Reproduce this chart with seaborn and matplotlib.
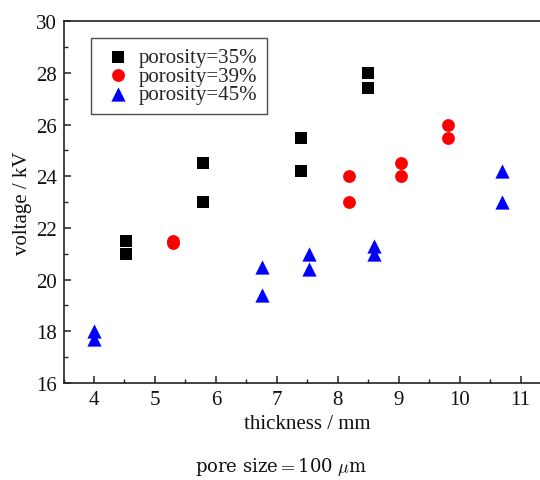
import numpy as np
import pandas as pd
import matplotlib
matplotlib.use("Agg")
import matplotlib.pyplot as plt
import seaborn as sns
from matplotlib.ticker import MultipleLocator

# data
x35 = [4.53, 4.53, 5.79, 5.79, 7.39, 7.39, 8.49, 8.49]
y35 = [21.5, 21.0, 24.5, 23.0, 25.5, 24.2, 28.0, 27.4]
x39 = [5.29, 5.29, 8.19, 8.19, 9.04, 9.04, 9.81, 9.81]
y39 = [21.5, 21.4, 24.0, 23.0, 24.5, 24.0, 26.0, 25.5]
x45 = [4.0, 4.0, 6.76, 6.76, 7.53, 7.53, 8.6, 8.6, 10.7, 10.7]
y45 = [18.0, 17.7, 20.5, 19.4, 21.0, 20.4, 21.3, 21.0, 24.2, 23.0]
labels = ["porosity=35%", "porosity=39%", "porosity=45%"]

df = pd.DataFrame({
    "thickness": x35 + x39 + x45,
    "voltage": y35 + y39 + y45,
    "group": [labels[0]] * len(x35) + [labels[1]] * len(x39) + [labels[2]] * len(x45),
})

sns.set_theme(style="white")
plt.rcParams["font.family"] = ["Liberation Serif", "DejaVu Serif"]
plt.rcParams["mathtext.fontset"] = "cm"

fig = plt.figure(figsize=(5.4, 4.81), dpi=100)
ax = fig.add_axes([0.1176, 0.2017, 0.903, 0.752])

palette = {labels[0]: "#000000", labels[1]: "#ff0000", labels[2]: "#0000ff"}
markers = {labels[0]: "s", labels[1]: "o", labels[2]: "^"}
sizes_map = {labels[0]: 75, labels[1]: 85, labels[2]: 105}

for lab in labels:
    sub = df[df["group"] == lab]
    sns.scatterplot(data=sub, x="thickness", y="voltage", color=palette[lab],
                    marker=markers[lab], s=sizes_map[lab], linewidth=0,
                    ax=ax, label=lab)

ax.set_xlim(3.5, 11.5)
ax.set_ylim(16, 30)
ax.xaxis.set_major_locator(MultipleLocator(1))
ax.xaxis.set_minor_locator(MultipleLocator(0.5))
ax.yaxis.set_major_locator(MultipleLocator(2))
ax.yaxis.set_minor_locator(MultipleLocator(1))
ax.tick_params(which="both", direction="in", bottom=True, left=True, top=False, right=False,
               colors="#222222", labelcolor="#111111")
ax.tick_params(which="major", length=5, width=1.1, labelsize=15, pad=5)
ax.tick_params(which="minor", length=3, width=1.0)
for sp in ["left", "bottom", "top"]:
    ax.spines[sp].set_color("#222222")
    ax.spines[sp].set_linewidth(1.2)
ax.spines["right"].set_visible(False)

ax.set_xlabel("thickness / mm", fontsize=15, color="#111111", labelpad=4)
ax.set_ylabel("voltage / kV", fontsize=15, color="#111111", labelpad=3)

leg = ax.legend(loc="upper left", bbox_to_anchor=(0.056, 0.953), borderaxespad=0,
                fontsize=15, frameon=True, fancybox=False, handletextpad=0.15,
                labelspacing=-0.05, borderpad=0.45, handlelength=1.7)
leg.get_frame().set_edgecolor("#222222")
leg.get_frame().set_linewidth(1.0)

fig.text(0.52, 0.03, r"pore size$=$100 $\mu$m", fontsize=13, ha="center", va="center",
         family=["DejaVu Serif"], color="#111111")

fig.savefig("out.png", dpi=100)
